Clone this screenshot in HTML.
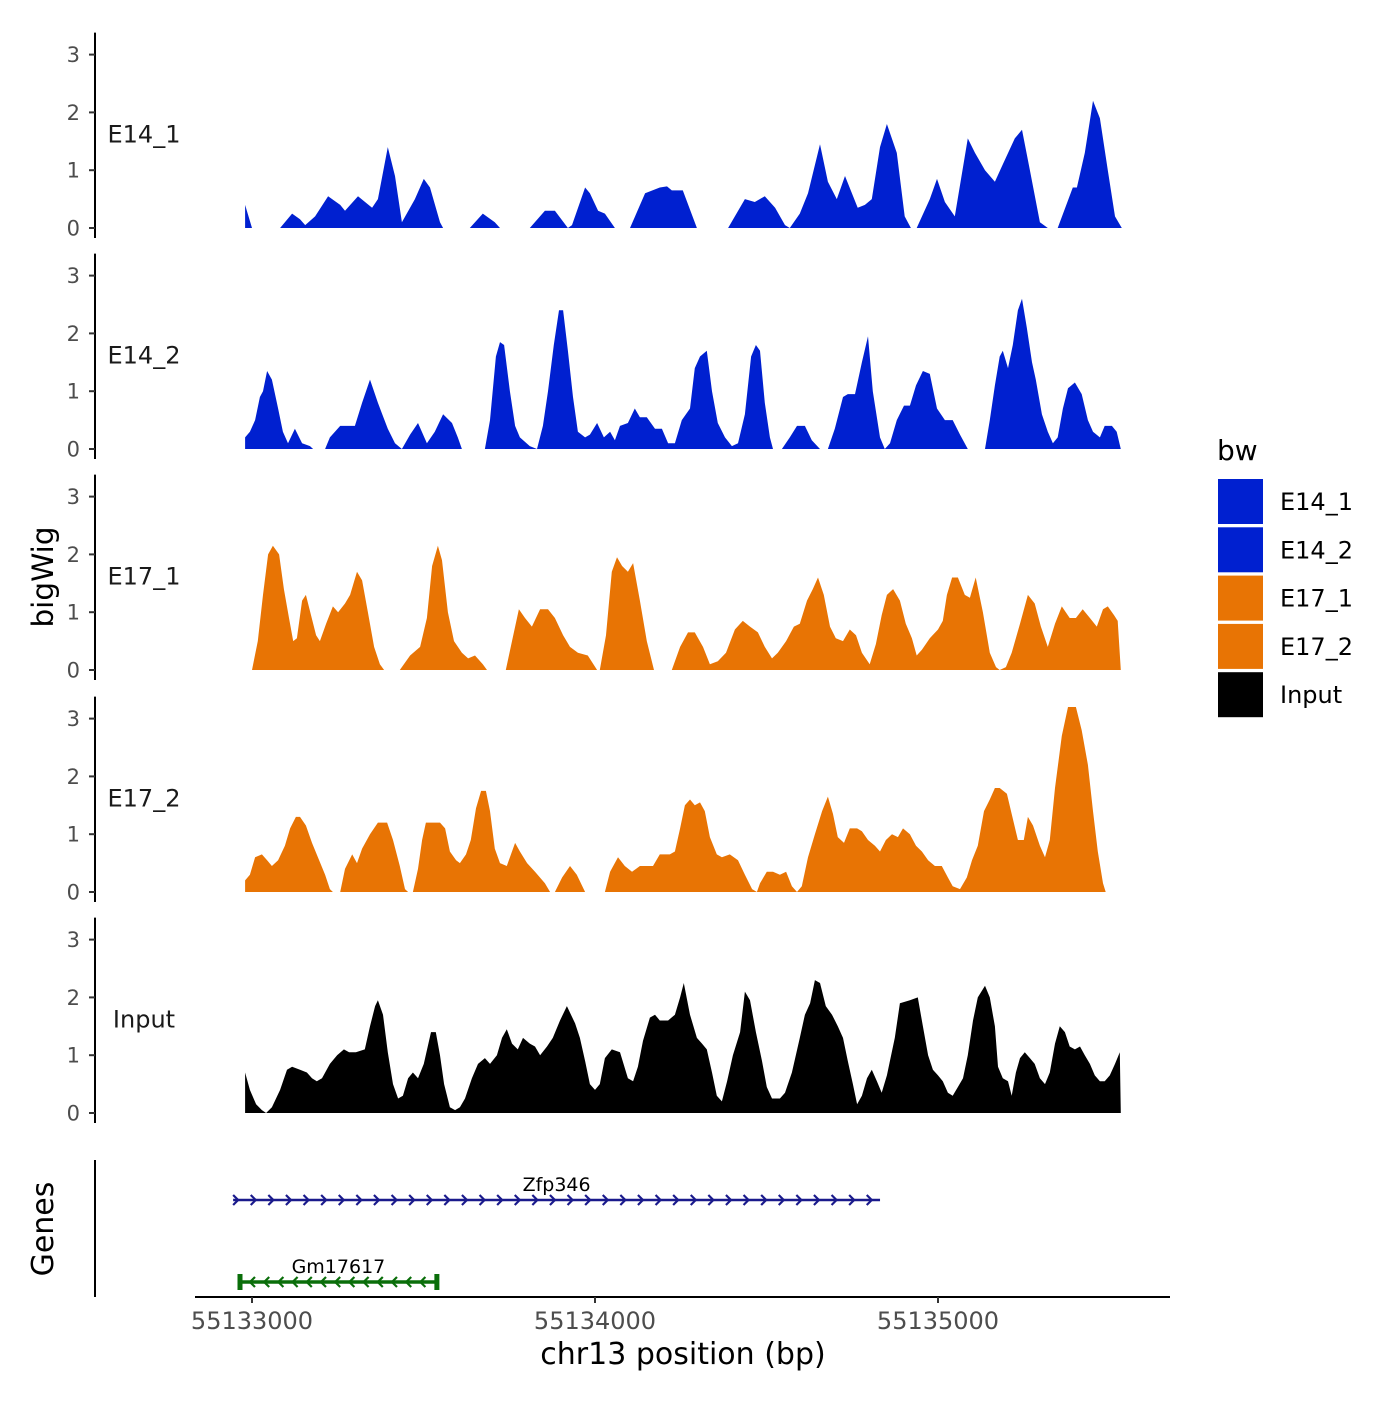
<!DOCTYPE html>
<html><head><meta charset="utf-8"><style>
body{margin:0;background:#fff;}
svg text{font-family:"DejaVu Sans","Liberation Sans",sans-serif;}
</style></head><body>
<svg id="chart" width="1400" height="1400" viewBox="0 0 1400 1400" xmlns="http://www.w3.org/2000/svg">
<rect width="1400" height="1400" fill="#fff"/>
<g id="tracks"></g>
<g id="genes"></g>
<g id="axes"></g>
<g id="legend"></g>
</svg>
<script>
const regionStart = 55133000;
const xTicks = [55133000, 55134000, 55135000];
const yTicks = [0, 1, 2, 3];
const trackNames = ["E14_1","E14_2","E17_1","E17_2","Input"];
const trackColors = ["#0020d0","#0020d0","#e87404","#e87404","#000000"];

const e14_1_pos = [-20,0,82,117,140,155,184,222,257,271,309,350,367,396,417,437,475,501,519,548,557,635,673,708,723,810,854,883,921,933,971,985,1009,1029,1058,1102,1146,1189,1210,1224,1256,1297,1388,1437,1466,1495,1525,1554,1568,1597,1621,1656,1679,1705,1729,1766,1787,1807,1831,1851,1880,1903,1921,1938,1976,1997,2020,2049,2087,2108,2137,2166,2189,2224,2245,2268,2297,2320,2349,2393,2405,2428,2452,2472,2495,2516,2536];
const e14_1_val = [0.4,0,0,0.25,0.15,0.05,0.2,0.55,0.4,0.3,0.55,0.35,0.5,1.4,0.9,0.1,0.5,0.85,0.7,0.1,0,0,0.25,0.1,0,0,0.3,0.3,0,0.05,0.7,0.6,0.3,0.25,0,0,0.6,0.7,0.72,0.65,0.65,0,0,0.5,0.45,0.55,0.35,0.05,0,0.25,0.6,1.45,0.8,0.5,0.9,0.35,0.4,0.5,1.4,1.8,1.3,0.2,0,0,0.5,0.85,0.45,0.2,1.55,1.3,1.0,0.8,1.1,1.55,1.7,1.0,0.1,0,0,0.7,0.7,1.3,2.2,1.9,1.0,0.2,0];

const e14_2_pos = [-20,-6,9,23,32,44,58,76,90,105,125,146,169,178,213,227,257,300,321,344,367,396,417,437,461,484,510,533,557,583,600,612,679,694,711,723,735,752,767,781,810,831,848,863,880,895,907,921,936,950,971,985,1006,1026,1044,1058,1073,1096,1116,1131,1151,1175,1195,1213,1233,1253,1277,1291,1306,1326,1341,1358,1379,1399,1417,1437,1455,1469,1481,1495,1510,1519,1545,1568,1589,1612,1632,1656,1679,1699,1723,1737,1758,1778,1796,1810,1831,1845,1860,1880,1901,1918,1936,1956,1976,1997,2020,2043,2064,2087,2137,2151,2166,2180,2189,2204,2218,2233,2245,2259,2274,2285,2303,2320,2335,2349,2364,2379,2399,2419,2437,2452,2472,2486,2507,2521,2533];
const e14_2_val = [0.2,0.3,0.5,0.9,1.0,1.35,1.2,0.7,0.3,0.1,0.35,0.1,0.05,0,0,0.2,0.4,0.4,0.8,1.2,0.8,0.35,0.1,0,0.25,0.45,0.1,0.3,0.6,0.45,0.2,0,0,0.5,1.6,1.85,1.8,1.0,0.4,0.2,0.05,0,0.4,1.0,1.8,2.4,2.4,1.7,0.9,0.3,0.2,0.25,0.45,0.2,0.3,0.15,0.4,0.45,0.7,0.55,0.55,0.35,0.35,0.1,0.1,0.5,0.7,1.4,1.6,1.7,1.0,0.45,0.2,0.05,0.1,0.6,1.6,1.8,1.7,0.8,0.2,0,0,0.2,0.4,0.4,0.15,0,0,0.35,0.9,0.95,0.95,1.5,1.95,1.0,0.2,0,0.1,0.5,0.75,0.75,1.1,1.35,1.3,0.7,0.5,0.5,0.25,0,0,0.5,1.1,1.6,1.7,1.4,1.8,2.4,2.6,2.1,1.5,1.2,0.6,0.3,0.1,0.2,0.7,1.05,1.15,0.95,0.5,0.3,0.2,0.4,0.4,0.3,0];

const e17_1_pos = [0,17,32,47,61,79,93,108,120,131,146,157,172,187,198,216,236,251,271,286,306,321,338,356,373,385,431,461,490,510,525,542,554,571,589,612,630,650,673,685,740,758,778,796,816,840,863,883,907,927,950,979,1006,1014,1032,1049,1064,1079,1096,1111,1131,1151,1172,1224,1248,1271,1291,1315,1335,1358,1382,1408,1431,1452,1475,1495,1516,1533,1557,1580,1597,1618,1635,1650,1667,1685,1702,1723,1743,1761,1778,1801,1819,1836,1851,1869,1889,1906,1924,1938,1953,1976,2000,2014,2026,2041,2058,2078,2093,2110,2131,2151,2169,2180,2198,2215,2239,2262,2282,2300,2320,2341,2361,2384,2402,2422,2443,2463,2481,2495,2513,2524,2533];
const e17_1_val = [0,0.5,1.3,2.0,2.15,2.0,1.4,0.9,0.5,0.55,1.2,1.3,0.95,0.6,0.5,0.8,1.1,1.0,1.15,1.3,1.7,1.55,1.0,0.4,0.1,0,0,0.25,0.4,0.9,1.8,2.15,1.9,1.0,0.5,0.3,0.2,0.25,0.1,0,0,0.5,1.05,0.9,0.75,1.05,1.05,0.9,0.6,0.4,0.3,0.25,0,0,0.6,1.7,1.95,1.8,1.7,1.85,1.2,0.5,0,0,0.4,0.65,0.65,0.4,0.1,0.15,0.3,0.7,0.85,0.75,0.65,0.4,0.2,0.3,0.5,0.75,0.8,1.2,1.4,1.6,1.3,0.75,0.55,0.5,0.7,0.6,0.3,0.1,0.45,0.95,1.3,1.4,1.2,0.8,0.55,0.25,0.35,0.55,0.7,0.85,1.3,1.6,1.6,1.3,1.25,1.6,1.0,0.3,0.05,0,0.05,0.3,0.8,1.3,1.15,0.75,0.4,0.8,1.1,0.9,0.9,1.05,0.9,0.75,1.05,1.1,0.95,0.85,0];

const e17_2_pos = [-20,-6,9,29,44,58,76,96,111,128,140,157,175,192,213,227,236,257,271,292,306,321,344,367,394,411,431,446,455,469,484,496,507,548,563,577,595,606,624,638,653,668,682,694,708,723,743,767,781,802,825,854,869,883,904,927,947,971,1029,1044,1067,1087,1108,1131,1154,1169,1189,1218,1233,1248,1262,1277,1291,1306,1320,1335,1355,1370,1393,1417,1437,1458,1472,1481,1501,1519,1539,1557,1574,1589,1603,1621,1641,1662,1679,1694,1708,1726,1743,1764,1778,1796,1816,1831,1848,1866,1883,1898,1918,1936,1953,1971,1991,2011,2029,2043,2064,2084,2099,2116,2134,2151,2166,2180,2201,2215,2233,2250,2262,2277,2297,2312,2326,2341,2361,2379,2402,2419,2437,2452,2466,2481,2489];
const e17_2_val = [0.2,0.3,0.6,0.65,0.55,0.45,0.55,0.8,1.1,1.3,1.3,1.15,0.85,0.6,0.3,0.05,0,0,0.4,0.65,0.5,0.75,1.0,1.2,1.2,0.9,0.45,0.05,0,0,0.4,0.9,1.2,1.2,1.1,0.7,0.55,0.5,0.65,0.9,1.45,1.75,1.75,1.4,0.75,0.5,0.45,0.85,0.7,0.5,0.35,0.15,0,0,0.25,0.45,0.3,0,0,0.35,0.6,0.45,0.35,0.45,0.45,0.45,0.65,0.65,0.7,1.1,1.5,1.6,1.5,1.55,1.4,0.95,0.65,0.6,0.65,0.55,0.3,0.05,0,0.15,0.35,0.35,0.3,0.35,0.1,0,0.1,0.6,1.0,1.4,1.65,1.35,0.95,0.85,1.1,1.1,1.05,0.9,0.8,0.7,0.9,1.0,0.95,1.1,1.0,0.8,0.7,0.55,0.45,0.45,0.25,0.1,0.05,0.25,0.55,0.8,1.4,1.6,1.8,1.8,1.7,1.35,0.9,0.9,1.3,1.15,0.8,0.6,0.9,1.8,2.7,3.2,3.2,2.8,2.2,1.4,0.7,0.15,0];

const input_pos = [-20,-6,12,29,41,58,82,102,117,140,160,175,189,204,227,248,268,283,303,329,344,359,367,382,396,411,426,440,455,469,484,501,522,536,548,560,577,592,606,621,641,659,679,694,714,729,743,758,775,790,810,825,840,860,877,898,918,942,956,971,985,1000,1014,1029,1049,1073,1096,1111,1125,1140,1160,1175,1189,1213,1233,1248,1259,1277,1297,1312,1326,1341,1355,1370,1385,1402,1423,1437,1452,1469,1487,1501,1516,1539,1554,1574,1597,1612,1627,1641,1656,1673,1691,1708,1723,1737,1752,1764,1778,1793,1807,1822,1836,1851,1874,1889,1918,1941,1956,1971,1985,2000,2014,2029,2043,2058,2073,2087,2102,2116,2137,2151,2166,2175,2189,2204,2215,2227,2239,2253,2268,2282,2297,2312,2326,2341,2355,2370,2384,2399,2414,2428,2443,2457,2472,2486,2501,2516,2530,2533];
const input_val = [0.7,0.4,0.15,0.05,0,0.1,0.4,0.75,0.8,0.75,0.7,0.6,0.55,0.6,0.85,1.0,1.1,1.05,1.05,1.1,1.5,1.85,1.95,1.7,1.05,0.5,0.25,0.3,0.6,0.7,0.6,0.85,1.4,1.4,1.0,0.5,0.1,0.05,0.1,0.25,0.6,0.85,0.95,0.85,1.0,1.3,1.45,1.2,1.1,1.3,1.2,1.15,1.0,1.15,1.3,1.6,1.85,1.55,1.3,0.9,0.5,0.4,0.5,0.95,1.1,1.05,0.6,0.55,0.8,1.25,1.65,1.7,1.6,1.6,1.7,2.0,2.25,1.7,1.3,1.2,1.1,0.7,0.3,0.2,0.55,1.0,1.4,2.1,1.95,1.4,0.9,0.45,0.25,0.25,0.35,0.7,1.3,1.7,1.9,2.3,2.25,1.85,1.7,1.5,1.3,0.9,0.5,0.15,0.3,0.6,0.75,0.55,0.35,0.65,1.3,1.9,1.95,2.0,1.5,1.0,0.75,0.65,0.55,0.35,0.3,0.45,0.6,1.0,1.6,2.0,2.2,2.0,1.5,0.8,0.6,0.55,0.3,0.7,0.95,1.05,0.95,0.85,0.6,0.5,0.7,1.2,1.5,1.4,1.15,1.1,1.15,1.0,0.85,0.65,0.55,0.55,0.65,0.85,1.05,0];

const trackPos = [e14_1_pos,e14_2_pos,e17_1_pos,e17_2_pos,input_pos];
const trackVal = [e14_1_val,e14_2_val,e17_1_val,e17_2_val,input_val];

const geneNames = ["Zfp346","Gm17617"];
const geneStarts = [-55,-35];
const geneEnds = [1831,539];
const geneStrand = ["+","-"];
const geneColors = ["#1a1a8c","#0a6e0a"];

const NS = "http://www.w3.org/2000/svg";
function mk(tag, attrs, parent, text){
  const e = document.createElementNS(NS, tag);
  for (const k in attrs) e.setAttribute(k, attrs[k]);
  if (text !== undefined) e.textContent = text;
  parent.appendChild(e);
  return e;
}
function xScale(offset){ return 252 + offset * 0.343; }
function xScaleAbs(bp){ return xScale(bp - regionStart); }
const panelBase = [228, 449, 670, 892, 1113];
const unitPx = 57.8;
function yScale(panel, v){ return panelBase[panel] - v * unitPx; }

const tracksG = document.getElementById('tracks');
const axesG = document.getElementById('axes');
trackNames.forEach((name, p) => {
  const pos = trackPos[p], val = trackVal[p];
  let d = "M" + xScale(pos[0]).toFixed(1) + "," + yScale(p,0);
  for (let i = 0; i < pos.length; i++) d += "L" + xScale(pos[i]).toFixed(1) + "," + yScale(p,val[i]).toFixed(1);
  d += "L" + xScale(pos[pos.length-1]).toFixed(1) + "," + yScale(p,0) + "Z";
  const area = mk('path', {d: d, fill: trackColors[p]}, tracksG);
  
  
  const top = yScale(p,3) - 22, bot = panelBase[p] + 10;
  const yl = mk('line', {x1:95, x2:95, y1:top, y2:bot, stroke:'#000', 'stroke-width':2}, axesG);
  
  
  yTicks.forEach(t => {
    const y = yScale(p,t);
    const tk = mk('line', {x1:89, x2:95, y1:y, y2:y, stroke:'#333', 'stroke-width':2}, axesG);
    
    
    const tl = mk('text', {x:80, y:y+7.5, 'text-anchor':'end', 'font-size':21, fill:'#4d4d4d'}, axesG, String(t));
    
    
  });
  const lb = mk('text', {x:144, y:yScale(p,1.62)+8, 'text-anchor':'middle', 'font-size':24, fill:'#1a1a1a'}, axesG, name);
  
  
});

const genesG = document.getElementById('genes');
const geneY = [1200, 1282];
geneNames.forEach((g, i) => {
  const x1 = xScale(geneStarts[i]), x2 = xScale(geneEnds[i]), y = geneY[i], c = geneColors[i];
  const gg = mk('g', {}, genesG);
  
  
  mk('line', {x1:x1, x2:x2, y1:y, y2:y, stroke:c, 'stroke-width': i===0?2.5:3.5}, gg);
  if (i === 1) {
    mk('line', {x1:x1, x2:x1, y1:y-8, y2:y+8, stroke:c, 'stroke-width':5}, gg);
    mk('line', {x1:x2, x2:x2, y1:y-8, y2:y+8, stroke:c, 'stroke-width':5}, gg);
  }
  const step = 17.6;
  let d = "";
  for (let x = x1 + (i===0?0:10); x <= x2 - 4; x += (i===0?step:14.2)) {
    if (geneStrand[i] === "+") d += "M" + (x) + "," + (y-5) + "L" + (x+5) + "," + y + "L" + x + "," + (y+5);
    else d += "M" + (x+5) + "," + (y-5) + "L" + x + "," + y + "L" + (x+5) + "," + (y+5);
  }
  mk('path', {d:d, fill:'none', stroke:c, 'stroke-width':2.2}, gg);
  const t = mk('text', {x:(x1+x2)/2, y:y-9, 'text-anchor':'middle', 'font-size':19, fill:'#000'}, gg, g);
  
  
});
const gax = mk('line', {x1:95, x2:95, y1:1160, y2:1297, stroke:'#000', 'stroke-width':2}, axesG);



const xa = mk('line', {x1:195, x2:1170, y1:1297, y2:1297, stroke:'#000', 'stroke-width':2}, axesG);


xTicks.forEach(t => {
  const x = xScaleAbs(t);
  const tk = mk('line', {x1:x, x2:x, y1:1297, y2:1303, stroke:'#333', 'stroke-width':2}, axesG);
  
  
  const tl = mk('text', {x:x, y:1329, 'text-anchor':'middle', 'font-size':24, fill:'#4d4d4d'}, axesG, String(t));
  
  
});

const xt = mk('text', {x:683, y:1364, 'text-anchor':'middle', 'font-size':30, fill:'#000'}, axesG, 'chr13 position (bp)');


const yt = mk('text', {x:0, y:0, transform:'translate(53,577) rotate(-90)', 'text-anchor':'middle', 'font-size':29.5, fill:'#000'}, axesG, 'bigWig');


const gt = mk('text', {x:0, y:0, transform:'translate(53,1229) rotate(-90)', 'text-anchor':'middle', 'font-size':30, fill:'#000'}, axesG, 'Genes');



const legG = document.getElementById('legend');
const lt = mk('text', {x:1217, y:460, 'font-size':28, fill:'#000'}, legG, 'bw');


trackNames.forEach((n, i) => {
  const y = 479 + i * 48.3;
  const g = mk('g', {}, legG);
  
  
  mk('rect', {x:1218, y:y, width:45, height:45, fill:trackColors[i]}, g);
  mk('text', {x:1280, y:y+31, 'font-size':24, fill:'#000'}, g, n);
});
</script>
</body></html>
